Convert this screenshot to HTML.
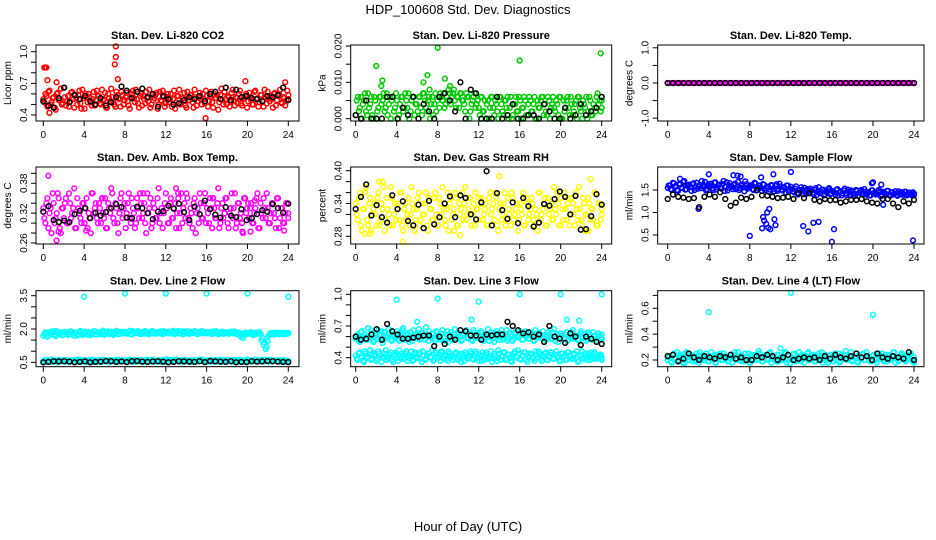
<!DOCTYPE html>
<html><head><meta charset="utf-8"><style>
body{margin:0;background:#fff}
svg{display:block;font-family:"Liberation Sans",Arial,sans-serif}
</style></head><body>
<svg id="chart" width="936" height="540" viewBox="0 0 936 540" xmlns="http://www.w3.org/2000/svg">
<text x="468" y="14" text-anchor="middle" font-size="13">HDP_100608  Std. Dev. Diagnostics</text>
<text x="468" y="531" text-anchor="middle" font-size="13">Hour of Day (UTC)</text>
</svg>
<script>
// ---- data ----
const hours = [0,4,8,12,16,20,24];
const co2 = [.55,.60,.48,.63,.52,.57,.45,.61,.54,.50,.66,.49,.58,.53,.62,.47,.56,.59,.51,.64,.46,.57,.60,.52,.55,.49,.63,.58,.50,.54,.61,.47,.56,.65,.52,.48,.59,.55,.62,.50,.57,.53,.46,.60,.56,.64,.51,.58,.49,.55,.62,.53,.47,.59,.56,.61,.50,.54,.63,.48,.57,.52,.60,.55,.46,.58,.64,.51,.56,.49,.62,.54,.59,.47,.57,.53,.61,.50,.55,.63,.48,.58,.52,.60,.56,.45,.59,.54,.62,.50,.57,.53,.64,.49,.56,.60,.51,.55,.58,.47,.61,.54,.50,.63,.56,.52,.59,.48,.57,.62,.53,.55,.60,.49,.58,.64,.51,.56,.54,.59];
const co2B = [.52,.58,.62,.50,.56,.47,.60,.54,.65,.51,.57,.53,.48,.61,.55,.59,.50,.63,.46,.56,.60,.52,.57,.49,.62,.54,.58,.51,.64,.55,.47,.60,.53,.57,.50,.62,.56,.48,.59,.54,.61,.49,.57,.63,.52,.55,.47,.60,.58,.51,.56,.64,.50,.54,.59,.46,.62,.53,.57,.51,.60,.55,.48,.63,.52,.58,.50,.56,.61,.47,.54,.59,.52,.64,.49,.57,.55,.60,.51,.58,.53,.62,.47,.56,.59,.52,.65,.50,.55,.58,.48,.61,.54,.57,.51,.63,.49,.56,.60,.53,.57,.50,.62,.55,.48,.59,.53,.64,.51,.56,.58,.47,.61,.54,.60,.52,.57,.49,.63,.55];
const co2Black = [.53,.49,.47,.56,.66,.52,.59,.55,.58,.53,.50,.56,.49,.52,.57,.67,.63,.56,.62,.65,.57,.60,.48,.58,.55,.50,.51,.54,.57,.55,.58,.53,.60,.62,.55,.66,.54,.64,.57,.58,.56,.55,.53,.58,.57,.59,.66,.54];
const co2OutX = [0.1,0.2,0.3,7.1,7.1,7.0,7.3,0.6,15.9,19.8,23.7,1.3,0.4];
const co2OutY = [.85,.85,.85,1.05,.95,.88,.74,.42,.37,.72,.71,.71,.73];

const pres = [1,6,3,0,5,2,7,4,1,6,0,3,6,5,2,7,4,0,6,3,5,1,6,2,7,3,0,5,6,4,2,6,1,7,3,5,0,6,4,2,6,7,5,3,6,8,4,7,5,6,3,7,5,2,6,0,4,6,3,5,1,6,2,0,5,3,6,1,4,0,6,2,5,3,0,6,1,4,2,6,0,3,5,1,6,2,4,0,5,3,6,1,2,6,0,4,3,5,1,6,0,2,5,3,6,1,4,0,6,2,5,3,0,6,1,4,2,7,5,3];
const presB = [5,2,6,4,7,1,3,6,0,5,2,6,4,7,3,1,6,5,2,7,0,4,6,3,5,7,2,6,1,4,6,3,7,5,2,6,4,1,7,5,3,6,7,4,5,7,6,8,3,6,7,5,4,7,6,2,5,7,4,3,6,2,5,4,0,6,3,5,2,6,4,1,5,6,3,0,4,6,2,5,3,6,1,4,5,2,6,0,3,5,6,4,1,5,3,6,2,4,6,0,5,3,6,1,4,2,5,6,3,0,4,6,2,5,1,3,6,4,2,5];
const presBlack = [1,0,5,0,0,0,6,6,0,3,1,6,0,4,2,0,6,7,5,2,10,0,8,7,0,0,0,6,0,1,4,0,0,1,1,0,4,2,0,0,3,0,1,4,1,2,3,6];
const presOutX = [2.0,2.6,2.5,7.0,6.6,8.0,8.7,16.0,23.9,7.2,9.2];
const presOutY = [14.5,10.5,9,12,10,19.5,11,16,18,8,9];

const ltemp = [0,0,0,0,0,0,0,0,0,0,0,0,0,0,0,0,0,0,0,0,0,0,0,0,0,0,0,0,0,0,0,0,0,0,0,0,0,0,0,0,0,0,0,0,0,0,0,0,0,0,0,0,0,0,0,0,0,0,0,0,0,0,0,0,0,0,0,0,0,0,0,0,0,0,0,0,0,0,0,0,0,0,0,0,0,0,0,0,0,0,0,0,0,0,0,0,0,0,0,0,0,0,0,0,0,0,0,0,0,0,0,0,0,0,0,0,0,0,0,0];
const ltempBlack = [0,0,0,0,0,0,0,0,0,0,0,0,0,0,0,0,0,0,0,0,0,0,0,0,0,0,0,0,0,0,0,0,0,0,0,0,0,0,0,0,0,0,0,0,0,0,0,0];

const box = [33,30,35,32,28,34,31,36,29,33,31,35,30,34,32,37,29,33,31,34,30,35,32,28,36,33,31,34,30,32,35,29,33,37,31,34,30,32,36,33,29,34,31,35,32,30,33,36,31,34,28,32,35,30,33,31,37,32,29,34,33,30,35,31,34,32,29,36,33,31,35,30,32,34,28,33,36,31,34,30,32,35,29,33,31,37,30,34,32,35,29,33,31,36,30,34,32,28,35,33,31,34,30,33,36,29,32,35,31,33,30,34,32,29,35,31,33,30,34,32];
const boxB = [31,34,29,33,36,30,32,35,28,33,34,30,36,31,33,29,35,32,30,34,33,29,31,36,32,34,30,33,35,31,29,34,32,36,30,33,28,35,31,34,32,36,30,33,29,35,31,34,32,30,36,33,29,34,31,35,30,33,32,36,30,34,31,33,29,35,32,30,34,36,31,33,29,35,32,30,34,31,36,33,30,33,35,31,34,29,33,31,35,30,32,36,33,29,34,31,30,35,32,34,33,30,32,35,29,34,31,33,36,30,32,34,31,35,29,33,30,32,34,31];
const boxBlack = [323,334,306,302,305,302,318,325,330,310,321,315,322,330,338,332,311,310,333,330,320,308,323,324,335,329,339,322,306,333,318,345,328,317,311,332,315,312,328,306,310,318,326,323,338,330,321,339];
const boxOutX = [0.5,1.3,9.8,13.2,5.8,16.6,13.0,20.7,1.5,19.5,20.3,23.6,4.2];
const boxOutY = [.395,.265,.36,.36,.35,.35,.37,.345,.283,.283,.283,.285,.285];

const rh = [34,31,36,29,33,37,30,35,32,34,30,36,31,33,29,35,32,37,30,34,33,31,36,29,34,32,30,37,33,31,35,30,34,32,36,29,33,31,35,32,30,34,37,31,33,29,35,32,36,30,34,33,31,37,32,35,30,34,36,33,31,35,32,34,30,36,33,31,35,29,34,32,36,31,33,30,35,32,34,31,33,36,30,34,32,35,31,33,29,36,32,34,30,35,33,31,37,32,34,30,33,36,31,35,32,34,30,33,37,31,35,32,29,34,33,31,36,30,34,32];
const rhB = [32,35,30,33,36,31,34,29,33,32,35,30,34,37,31,33,30,35,32,31,34,36,30,33,31,35,32,34,29,33,36,31,32,34,30,35,33,31,36,30,35,32,33,30,36,34,31,33,35,30,32,36,34,31,33,35,32,30,33,35,34,31,33,30,35,32,34,36,30,33,31,34,30,35,32,36,31,33,29,34,32,30,35,31,33,34,30,32,36,31,33,35,30,32,34,31,33,36,30,35,31,33,34,30,35,32,36,31,33,30,34,32,35,31,33,36,30,34,31,33];
const rhBlack = [330,352,375,318,337,315,305,355,330,344,308,300,338,295,345,302,315,340,353,315,355,350,320,311,342,399,300,359,328,312,342,304,350,335,298,305,339,336,348,362,352,320,354,292,293,317,357,338];
const rhOutX = [4.6,10.2,9.6,0.9,1.4,14.0,22.9,22.4,22.7,2.3,2.6];
const rhOutY = [.27,.282,.29,.285,.285,.39,.385,.29,.29,.38,.38];

const flow = [155,160,150,165,158,148,162,155,170,152,160,157,163,150,166,158,154,161,168,152,159,164,150,167,156,162,153,170,158,149,165,157,161,152,168,155,160,147,163,156,158,152,166,149,160,155,163,150,157,146,161,153,159,148,164,151,156,145,160,150,152,145,158,140,150,147,155,142,149,153,144,150,139,156,146,151,141,148,154,143,147,140,152,145,138,149,143,151,139,146,142,150,137,147,144,152,140,145,138,149,143,141,150,136,146,142,148,139,144,140,147,137,143,145,139,146,141,144,138,142];
const flowB = [160,152,166,158,150,163,155,168,151,159,162,148,165,157,153,161,170,156,149,163,158,154,166,151,160,156,163,148,167,155,159,152,164,157,150,162,156,169,153,158,161,150,164,155,159,148,162,154,157,151,160,147,163,152,158,149,155,160,146,157,147,153,143,150,156,141,148,152,144,149,140,154,147,143,150,138,146,152,141,148,145,150,138,147,143,153,139,146,149,142,137,148,144,150,140,146,142,138,149,143,140,147,145,139,144,141,148,137,145,142,139,147,140,143,146,138,144,141,145,139];
const flowBlack = [130,140,135,133,130,132,112,135,140,135,145,130,115,122,133,130,135,150,138,137,135,132,133,135,130,143,132,143,128,125,130,127,128,122,125,128,128,130,125,122,120,130,130,120,112,125,120,128];
const flowOutX = [4.0,6.4,6.8,7.1,1.2,9.1,10.3,12.0,19.9,20.8,3.0,8.0,9.2,9.3,9.4,9.6,9.7,9.9,9.8,10.0,10.4,10.5,13.2,13.7,14.2,14.7,16.0,16.2,23.9,21.0,20.0];
const flowOutY = [1.85,1.83,1.82,1.8,1.75,1.78,1.85,1.9,1.65,1.62,1.08,0.48,0.65,0.9,0.82,0.75,1.0,1.08,0.66,0.63,0.85,0.72,0.7,0.58,0.77,0.79,0.35,0.63,0.38,1.17,1.67];

const l2Upper = [170,185,165,180,175,190,168,182,178,172,186,180,174,188,179,170,184,176,191,173,183,177,187,172,181,189,175,184,178,193,176,185,180,188,174,182,190,177,186,181,184,179,192,175,187,182,190,178,185,180,188,176,184,191,179,186,182,189,177,185,183,188,180,192,178,186,181,189,176,184,190,179,185,182,188,177,183,191,180,186,181,187,178,184,190,176,183,188,180,185,179,187,182,189,177,184,165,160,175,183,180,186,172,182,178,185,150,130,110,145,178,182,175,180,184,177,181,176,179,182];
const l2UpperB = [178,184,172,188,181,175,190,179,185,173,187,182,176,189,180,184,171,186,178,183,188,175,182,179,190,176,185,181,187,174,183,189,178,184,180,192,177,186,182,188,180,186,178,190,183,188,181,185,179,191,184,178,189,182,186,180,188,183,190,181,186,180,189,184,182,191,179,185,188,183,180,187,184,190,179,186,182,188,181,185,184,179,189,182,186,180,187,178,185,183,182,188,180,186,184,179,175,180,184,178,183,180,176,184,181,179,160,140,120,170,182,179,184,181,177,183,180,184,178,181];
const l2Lower = [55,60,52,58,62,54,57,50,59,56,61,53,58,55,60,52,57,63,54,59,56,51,58,61,55,57,53,60,56,62,54,58,51,59,55,61,57,53,60,56,58,54,62,55,59,52,57,61,56,53,60,58,54,62,57,55,59,52,61,56,63,58,55,60,54,62,57,59,53,61,56,58,55,60,52,59,57,62,54,58,56,61,53,59,57,55,62,58,54,60,56,59,53,61,57,55,60,52,58,63,56,59,54,61,57,55,60,53,58,56,62,54,59,57,55,60,53,58,56,54];
const l2LowerB = [58,53,60,56,52,59,55,61,54,57,53,60,56,58,52,61,55,59,53,57,60,54,56,62,53,58,55,59,52,61,57,54,60,56,58,53,62,55,59,57,54,60,56,52,61,58,55,59,53,57,62,54,60,56,52,59,58,55,61,53,57,60,54,62,56,58,53,59,61,55,57,52,60,56,59,54,62,55,58,57,53,59,56,61,54,58,52,60,57,55,61,53,59,56,58,62,54,57,55,60,53,58,61,55,59,54,57,62,56,53,59,55,60,58,54,57,61,55,52,56];
const l2Black = [50,52,55,54,55,53,50,52,54,50,52,53,56,55,52,54,51,55,56,53,52,54,55,53,50,52,55,54,53,52,55,51,56,54,53,52,55,50,52,51,55,53,54,56,55,53,52,51];
const l2OutX = [4.0,8.0,12.0,16.0,20.0,24.0];
const l2OutY = [3.45,3.6,3.6,3.6,3.6,3.45];

const l3Upper = [58,62,55,65,60,57,68,59,63,56,61,66,58,54,64,60,67,57,62,59,65,56,61,68,58,63,55,60,66,59,62,57,64,61,69,56,60,63,58,65,61,57,66,59,62,55,64,60,67,58,63,56,61,65,59,62,57,66,60,63,58,64,56,61,67,59,62,55,65,60,63,57,61,66,58,62,56,64,60,59,63,57,65,61,58,62,56,66,60,63,59,61,57,64,62,58,67,60,55,63,61,58,64,57,62,66,59,61,56,65,60,63,58,62,57,64,60,59,61,58];
const l3UpperB = [61,56,64,59,62,57,60,66,55,63,58,62,65,57,61,59,64,56,62,60,58,63,66,57,61,59,64,56,62,60,67,58,63,57,61,65,59,62,56,64,58,63,60,56,65,61,57,62,59,64,60,57,63,66,58,61,56,64,59,62,65,57,62,60,56,64,58,63,61,57,66,59,62,56,64,60,58,63,61,65,57,62,60,58,64,61,56,63,59,62,65,57,61,60,58,64,56,62,60,63,59,62,56,60,64,58,61,57,63,59,62,56,64,60,58,61,57,63,59,62];
const l3Lower = [42,38,45,40,36,44,41,47,39,43,37,46,42,40,44,38,41,45,36,43,40,47,39,42,44,37,41,46,38,43,40,45,36,42,39,44,41,47,38,43,40,37,45,42,39,46,41,38,44,40,43,36,42,45,39,41,44,38,46,40,43,37,42,45,39,41,36,44,40,47,38,42,45,39,43,37,41,46,40,44,38,42,45,36,41,43,39,46,40,44,37,42,45,38,41,43,39,46,40,37,44,42,38,45,41,39,43,46,37,42,40,44,38,41,45,39,43,40,42,38];
const l3LowerB = [39,44,41,37,46,40,43,38,45,42,39,44,36,41,47,40,43,38,42,45,37,41,44,39,46,40,42,37,45,41,43,39,46,38,42,44,40,37,45,41,43,46,39,41,37,44,42,40,45,38,41,44,37,43,40,46,39,42,44,37,41,45,38,43,40,46,39,42,37,44,41,45,38,43,40,36,44,41,47,39,42,45,38,41,44,40,37,43,46,39,42,44,38,41,45,39,43,40,37,44,41,38,45,42,39,44,40,36,43,46,39,41,44,38,42,45,39,41,43,40];
const l3Black = [60,57,58,62,67,57,72,65,62,58,58,59,60,61,61,51,60,53,60,57,66,65,61,61,57,62,61,62,62,74,70,66,63,64,60,62,55,70,60,58,54,63,60,52,60,58,55,53];
const l3OutX = [4.0,8.0,12.0,16.0,20.0,24.0,11.3,6.0,20.6,21.8];
const l3OutY = [0.95,0.96,0.93,1.0,1.0,1.0,0.76,0.74,0.76,0.75];

const l4 = [20,23,18,25,21,19,24,22,17,26,20,23,19,22,25,18,21,24,20,23,19,26,22,18,24,21,20,25,23,19,22,18,24,21,26,20,23,19,22,25,18,21,24,20,27,22,19,23,21,25,18,22,20,24,19,23,21,26,20,17,22,25,19,23,21,24,18,22,26,20,23,19,21,25,22,18,24,20,23,21,19,25,22,18,24,21,27,20,23,19,22,25,18,21,24,20,26,22,19,23,21,18,25,22,20,24,19,23,21,26,18,22,20,25,23,19,21,24,20,18];
const l4B = [22,19,24,21,26,20,23,18,25,22,20,24,21,19,23,26,20,22,25,19,23,21,24,18,22,25,20,23,21,19,24,22,26,20,23,19,21,25,22,18,24,20,23,21,25,19,22,24,20,26,21,23,19,24,22,20,25,18,23,21,24,20,22,26,19,23,21,25,20,22,24,19,23,21,26,20,22,18,24,21,23,20,25,19,22,24,21,23,26,20,22,19,24,21,25,20,23,22,19,24,20,23,21,25,19,22,24,20,23,26,21,19,22,24,20,23,21,25,19,22];
const l4Black = [23,24,19,21,25,22,20,23,22,21,23,22,24,21,22,20,20,23,22,24,23,20,22,24,20,21,22,21,22,20,23,21,24,22,21,23,25,22,23,20,25,22,21,23,22,21,26,20];
const l4OutX = [4.0,12.0,20.0,11.0];
const l4OutY = [0.57,0.72,0.55,0.29];

// ---- drawing ----
const NS = "http://www.w3.org/2000/svg";
const svg = document.getElementById('chart');
function mk(tag, attrs, parent){
  const e = document.createElementNS(NS, tag);
  for (const k in attrs) e.setAttribute(k, attrs[k]);
  (parent||svg).appendChild(e);
  return e;
}
const colX = [{x0:43.3,x1:288.3,bl:36,br:299},{x0:355.7,x1:601.7,bl:350.7,br:611.7},{x0:667.7,x1:914,bl:657.7,br:924}];
const rowY = [{t:45,b:121},{t:167,b:244},{t:290.7,b:366.7}];

function panel(key, col, row, title, ylab, a1, a2, ticks, labels, series){
  const C = colX[col], R = rowY[row];
  const g = mk('g', {});
  
  
  const xs = h => C.x0 + (C.x1 - C.x0) * h / 24;
  const ys = v => a1[1] + (v - a1[0]) * (a2[1] - a1[1]) / (a2[0] - a1[0]);
  const t = mk('text', {x:(C.bl+C.br)/2, y:R.t-6, 'text-anchor':'middle', 'font-size':'11', 'font-weight':'bold'}, g);
  t.textContent = title;
  
  
  series.forEach(s => {
    const sg = mk('g', {fill:'none', stroke:s.color, 'stroke-width':'1.5'}, g);
    
    
    const o = s.off || 0;
    s.y.forEach((v, i) => {
      const h = s.x ? s.x[i] : Math.min(24, 24 * (i + o) / (s.y.length - 1));
      const c = mk('circle', {cx:xs(h).toFixed(1), cy:ys(v * s.k).toFixed(1), r:'2.4'}, sg);
      
      
    });
  });
  const bx = mk('rect', {x:C.bl, y:R.t, width:C.br-C.bl, height:R.b-R.t, fill:'none', stroke:'#000', 'stroke-width':'1'}, g);
  
  
  const xa = mk('g', {}, g);
  
  
  hours.forEach(h => {
    mk('line', {x1:xs(h), x2:xs(h), y1:R.b, y2:R.b+5, stroke:'#000'}, xa);
    const tl = mk('text', {x:xs(h), y:R.b+17, 'text-anchor':'middle', 'font-size':'10'}, xa);
    tl.textContent = h;
  });
  const ya = mk('g', {}, g);
  
  
  ticks.forEach(v => mk('line', {x1:C.bl-5, x2:C.bl, y1:ys(v), y2:ys(v), stroke:'#000'}, ya));
  labels.forEach(l => {
    const yy = ys(parseFloat(l)), xx = C.bl - 9;
    const tl = mk('text', {x:xx, y:yy, 'text-anchor':'middle', 'font-size':'10', transform:`rotate(-90 ${xx} ${yy})`}, ya);
    tl.textContent = l;
  });
  const yl = C.bl - 25, ym = (R.t + R.b) / 2;
  const ylt = mk('text', {x:yl, y:ym, 'text-anchor':'middle', 'font-size':'10', transform:`rotate(-90 ${yl} ${ym})`}, g);
  ylt.textContent = ylab;
  
  
}
const S = (name, color, y, k, x, off) => ({name, color, y, k, x, off});

panel('co2', 0, 0, 'Stan. Dev. Li-820 CO2', 'Licor ppm', [1.0,51.7], [0.4,115], [0.4,0.5,0.6,0.7,0.8,0.9,1.0], ['0.4','0.7','1.0'],
  [S('red-series','#ff0000',co2,1), S('red-series-b','#ff0000',co2B,1,null,0.5), S('red-outliers','#ff0000',co2OutY,1,co2OutX), S('black-series','#000',co2Black,1)]);
panel('pressure', 1, 0, 'Stan. Dev. Li-820 Pressure', 'kPa', [0.02,46], [0,118.7], [0,0.005,0.01,0.015,0.02], ['0.000','0.010','0.020'],
  [S('green-series','#00c800',pres,0.001), S('green-series-b','#00c800',presB,0.001,null,0.5), S('green-outliers','#00c800',presOutY,0.001,presOutX), S('black-series','#000',presBlack,0.001)]);
panel('temp', 2, 0, 'Stan. Dev. Li-820 Temp.', 'degrees C', [1,47.8], [-1,118.2], [-1,-0.5,0,0.5,1], ['-1.0','0.0','1.0'],
  [S('magenta-series','#ff00ff',ltemp,1), S('black-series','#000',ltempBlack,1)]);
panel('boxtemp', 0, 1, 'Stan. Dev. Amb. Box Temp.', 'degrees C', [0.38,183.3], [0.26,243], [0.26,0.28,0.30,0.32,0.34,0.36,0.38,0.40], ['0.26','0.32','0.38'],
  [S('magenta-series','#ff00ff',box,0.01), S('magenta-series-b','#ff00ff',boxB,0.01,null,0.5), S('magenta-outliers','#ff00ff',boxOutY,1,boxOutX), S('black-series','#000',boxBlack,0.001)]);
panel('rh', 1, 1, 'Stan. Dev. Gas Stream RH', 'percent', [0.40,170.7], [0.28,236.3], [0.28,0.30,0.32,0.34,0.36,0.38,0.40], ['0.28','0.34','0.40'],
  [S('yellow-series','#ffff00',rh,0.01), S('yellow-series-b','#ffff00',rhB,0.01,null,0.5), S('yellow-outliers','#ffff00',rhOutY,1,rhOutX), S('black-series','#000',rhBlack,0.001)]);
panel('flow', 2, 1, 'Stan. Dev. Sample Flow', 'ml/min', [1.5,190], [0.5,235], [0.5,1.0,1.5], ['0.5','1.0','1.5'],
  [S('blue-series','#0000ff',flow,0.01), S('blue-series-b','#0000ff',flowB,0.01,null,0.5), S('blue-outliers','#0000ff',flowOutY,1,flowOutX), S('black-series','#000',flowBlack,0.01)]);
panel('line2', 0, 2, 'Stan. Dev. Line 2 Flow', 'ml/min', [3.5,295.7], [0.5,362.3], [0.5,1.0,1.5,2.0,2.5,3.0,3.5], ['0.5','2.0','3.5'],
  [S('cyan-upper','#00ffff',l2Upper,0.01), S('cyan-upper-b','#00ffff',l2UpperB,0.01,null,0.5), S('cyan-lower','#00ffff',l2Lower,0.01), S('cyan-lower-b','#00ffff',l2LowerB,0.01,null,0.5), S('cyan-outliers','#00ffff',l2OutY,1,l2OutX), S('black-series','#000',l2Black,0.01)]);
panel('line3', 1, 2, 'Stan. Dev. Line 3 Flow', 'ml/min', [1.0,294.3], [0.4,357.7], [0.4,0.5,0.6,0.7,0.8,0.9,1.0], ['0.4','0.7','1.0'],
  [S('cyan-upper','#00ffff',l3Upper,0.01), S('cyan-upper-b','#00ffff',l3UpperB,0.01,null,0.5), S('cyan-lower','#00ffff',l3Lower,0.01), S('cyan-lower-b','#00ffff',l3LowerB,0.01,null,0.5), S('cyan-outliers','#00ffff',l3OutY,1,l3OutX), S('black-series','#000',l3Black,0.01)]);
panel('line4', 2, 2, 'Stan. Dev. Line 4 (LT) Flow', 'ml/min', [0.6,308.3], [0.2,360], [0.2,0.3,0.4,0.5,0.6,0.7], ['0.2','0.4','0.6'],
  [S('cyan-series','#00ffff',l4,0.01), S('cyan-series-b','#00ffff',l4B,0.01,null,0.5), S('cyan-outliers','#00ffff',l4OutY,1,l4OutX), S('black-series','#000',l4Black,0.01)]);
</script>
</body></html>
